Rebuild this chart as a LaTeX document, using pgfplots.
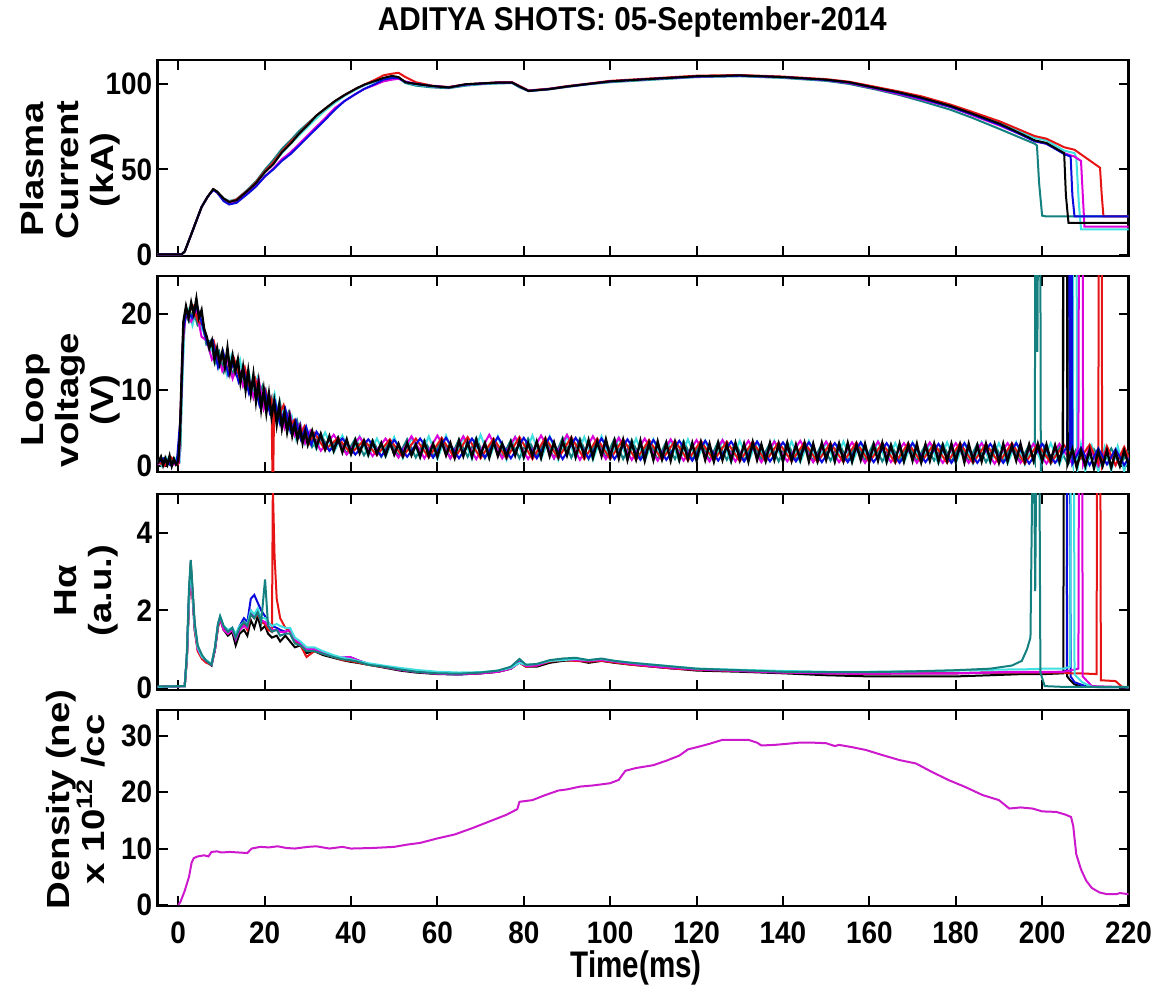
\documentclass[border=0pt]{standalone}
\usepackage{fontspec}
\setmainfont{Liberation Sans}[FakeStretch=0.9]
\newfontfamily\xlabf{Liberation Sans}[FakeStretch=0.8]
\newfontfamily\ylabf{Liberation Sans}[FakeStretch=1.2]
\usepackage{pgfplots}
\usepackage{pgfplotstable}
\pgfplotsset{compat=1.18}
\definecolor{cteal}{RGB}{20,128,128}
\definecolor{ccyan}{RGB}{64,224,224}
\definecolor{cmag}{RGB}{220,0,220}
\definecolor{cred}{RGB}{230,20,20}
\definecolor{cblue}{RGB}{10,10,220}
\definecolor{cdens}{RGB}{205,25,205}

\pgfplotstableread{
t k b r m c g
-4.8 0.4 0.4 0.4 0.4 0.4 0.4
0.8 0.4 0.4 0.4 0.4 0.4 0.4
1.5 2 2 2 2 2 2
3.1 12.6 12.6 12.6 12.6 12.6 12.6
4.2 20 20 20 20 20 20
5.4 28 28 28 28 28 28
6.8 34 34 34 34 34 34
8.1 38.5 38 38.5 38 38.5 38.5
9.0 37 36.5 37 36.5 37 37
10.5 33 31.5 33 32 33 33
11.8 31 29.5 31 30 31.5 31.5
13.5 32 30.5 32.5 31 32.5 32.5
16.2 37.8 36 38 36.5 38 38.5
18 42 40 42.5 40.5 42 43
20.1 48.5 46 49 46 48.5 50
22 53 50 54 50.5 53.5 55.5
24 60 55 60.5 56 59.5 62
26 65 59 66 60 65 67
28 71 64 71 65 70 72.5
30 76 69 76.5 70 75 77
32 81.5 74 81.5 75 80 81.5
34 85.5 79 85.5 80 84.5 85.5
36.3 90 85 90 86 89 90
38.5 93.5 90 93.5 90 93 93.5
41 97 94 97 94 96.5 97
43 99.5 97 99.5 97 99 99.5
45.6 101.7 100 102.5 99.5 101.5 101.5
47.5 103.5 102.5 105 101.5 103 103
49.5 104.7 103.5 106 102.5 104 104
51 104 103.5 106.5 103 103.5 103.5
52.6 101 101 104 101.5 101 100.5
55 100 100 101 100 99.5 99
58.7 98.8 98.8 99 98.8 98.5 98
62.6 97.9 98 98.2 98 98 97.5
66.5 99.8 99.6 99.8 99.6 99.3 99
70 100.3 100.2 100.3 100.2 100 99.8
74.2 100.8 100.8 101 100.8 100.5 100.3
77.3 100.8 100.8 101 100.8 100.6 100.5
79 98.5 98.5 98.8 98.5 98.3 98
81.1 95.9 96 96.2 96 96 95.8
85.8 96.9 97 97.2 97 97 96.8
90 98.5 98.5 98.7 98.5 98.5 98.2
95 100 100 100.2 100 100 99.8
100 101.5 101.5 101.8 101.5 101.3 101
110 103 103 103.3 103 102.8 102.5
120 104.5 104.3 104.8 104.3 104.2 104
130 105 104.8 105.2 104.8 104.7 104.5
140 104 104 104.3 104 103.8 103.5
150 102.5 102.3 102.8 102.3 102.2 101.8
155.3 101 100.8 101.3 100.5 100.8 100
161 98 97.8 98.5 97.5 98 97
167 95 94.5 95.5 94 95 93.5
172 92 91.5 92.8 91 92 90
178.7 87.2 86.7 88 86.5 87.5 85
184 82.5 82 83.5 81.5 83 80
190.3 76.6 76 78 75.5 77.5 73.5
195 71 70.5 73 70.5 72 68.5
198.3 67 66.5 69.5 66.5 68.5 65
198.8 nan nan nan nan nan 64
199.3 nan nan nan nan nan 42
200 nan nan nan nan nan 23
201 65.5 65 68 65 67 22.5
205.1 59.5 59 63 59.5 61 nan
205.5 35 nan nan nan nan nan
206.1 18.8 nan nan nan nan nan
206.6 nan 57.5 nan nan nan nan
207 nan 35 nan nan nan nan
207.5 nan 22.5 61.5 57.5 59.5 nan
207.9 nan nan nan nan 57 nan
208.5 nan nan nan nan 30 nan
209 nan nan nan 55 15 nan
209.8 nan nan nan 16.5 nan nan
213.4 nan nan 51 nan nan nan
213.8 nan nan 35 nan nan nan
214.2 nan nan 22.5 nan nan nan
220 18.8 22.5 22.5 16.5 15 22.5
}\tabIp

\pgfplotstableread{
t k b r m c g
-4.8 0.03 0.03 0.03 0.03 0.03 0.04
1.5 0.05 0.05 0.05 0.05 0.05 0.05
2.0 0.8 0.8 0.7 0.8 0.8 0.9
2.5 2.4 2.3 2.2 2.3 2.4 2.6
2.9 3.25 3.0 2.9 3.0 3.1 3.3
3.3 2.5 2.4 2.4 2.5 2.5 2.6
3.8 1.6 1.5 1.5 1.6 1.6 1.7
4.5 1.05 1.0 0.95 1.0 1.05 1.1
5.5 0.8 0.8 0.75 0.8 0.8 0.85
6.5 0.68 0.7 0.65 0.7 0.72 0.7
7.7 0.58 0.6 0.6 0.6 0.62 0.6
8.5 1.0 1.0 1.0 1.0 1.05 1.05
9.2 1.6 1.6 1.55 1.6 1.65 1.65
9.7 1.8 1.82 1.78 1.8 1.85 1.85
10.5 1.5 1.55 1.5 1.5 1.6 1.6
11.5 1.35 1.45 1.4 1.4 1.5 1.45
12.5 1.45 1.55 1.5 1.5 1.55 1.55
13.3 1.1 1.35 1.3 1.25 1.4 1.3
14.2 1.4 1.6 1.5 1.5 1.6 1.55
15.2 1.5 1.8 1.65 1.6 1.7 1.7
16.0 1.35 1.7 1.5 1.55 1.65 1.6
16.8 1.75 2.3 1.9 2.0 2.0 1.9
17.6 1.55 2.4 1.8 1.85 1.9 1.8
18.4 1.85 2.2 1.9 2.0 2.05 1.95
19.2 1.5 2.0 1.7 1.75 1.8 1.7
20.1 1.6 1.85 1.65 1.7 1.8 2.8
20.8 1.4 1.7 1.5 1.6 1.7 1.6
21.7 1.3 1.6 1.45 1.5 1.6 1.45
21.9 nan nan 5.2 nan nan nan
22.3 nan nan 3.4 nan nan nan
22.8 1.35 1.55 2.3 1.5 1.65 1.5
23.6 1.2 1.5 1.8 1.45 1.6 1.35
24.8 1.35 1.45 1.55 1.45 1.55 1.4
25.9 1.2 1.5 1.45 1.5 1.55 1.4
27.0 1.05 1.25 1.2 1.25 1.3 1.15
28.3 1.1 1.15 1.1 1.15 1.2 1.1
29.7 0.9 1.0 0.8 1.0 1.05 0.95
31.5 0.95 1.0 0.95 1.0 1.05 0.95
33.5 0.85 0.92 0.88 0.9 0.95 0.88
35.9 0.78 0.82 0.8 0.82 0.85 0.8
38.0 0.72 0.78 0.72 0.78 0.78 0.74
39.7 0.68 0.8 0.7 0.8 0.75 0.72
41.5 0.65 0.72 0.66 0.72 0.7 0.68
44 0.6 0.62 0.6 0.62 0.64 0.6
47.5 0.53 0.55 0.54 0.55 0.58 0.55
51.3 0.45 0.47 0.47 0.47 0.52 0.48
55 0.4 0.42 0.42 0.42 0.47 0.42
60 0.36 0.37 0.37 0.37 0.42 0.38
65 0.35 0.35 0.36 0.36 0.4 0.37
70 0.38 0.38 0.38 0.38 0.41 0.4
74 0.42 0.42 0.42 0.42 0.45 0.45
77 0.5 0.5 0.5 0.5 0.52 0.55
79 0.66 0.68 0.66 0.66 0.65 0.75
80.5 0.55 0.58 0.55 0.57 0.6 0.6
83 0.55 0.6 0.58 0.58 0.62 0.62
86 0.65 0.7 0.68 0.7 0.7 0.72
89 0.7 0.72 0.72 0.75 0.72 0.76
92 0.72 0.75 0.7 0.72 0.75 0.78
95 0.65 0.7 0.68 0.7 0.72 0.72
98 0.7 0.72 0.7 0.72 0.75 0.76
101 0.65 0.68 0.66 0.68 0.7 0.7
105 0.6 0.62 0.6 0.62 0.65 0.65
110 0.55 0.55 0.55 0.56 0.6 0.6
115 0.5 0.5 0.5 0.52 0.55 0.55
120 0.45 0.48 0.47 0.48 0.5 0.5
130 0.42 0.44 0.44 0.44 0.47 0.46
140 0.38 0.4 0.4 0.4 0.44 0.42
150 0.33 0.38 0.38 0.38 0.42 0.41
160 0.3 0.37 0.37 0.37 0.42 0.41
170 0.3 0.38 0.38 0.38 0.43 0.43
180 0.3 0.38 0.38 0.38 0.45 0.46
188 0.33 0.4 0.4 0.4 0.47 0.5
193 0.35 0.4 0.4 0.42 0.48 0.58
195.3 0.36 0.4 0.4 0.42 0.48 0.7
196.5 nan nan nan nan nan 1.0
197.3 nan nan nan nan nan 1.3
197.7 nan nan nan nan nan 5.2
198.2 nan nan nan nan nan 5.2
198.4 nan nan nan nan nan 2.5
198.6 nan nan nan nan nan 5.2
199.4 nan nan nan nan nan 5.2
199.6 nan nan nan nan nan 0.4
200.6 0.36 0.4 0.4 0.42 0.5 0.05
204.9 0.38 0.42 0.4 0.42 0.5 0.03
205.0 5.2 nan nan nan nan nan
205.7 5.2 0.45 nan nan nan nan
205.8 0.3 5.2 nan nan nan nan
206.5 0.2 5.2 0.38 0.45 0.55 nan
206.6 nan 0.3 nan nan 5.2 nan
207.4 0.1 nan nan nan 5.2 nan
207.5 nan 0.15 nan nan 0.35 nan
208.4 nan nan 0.38 0.5 nan nan
208.5 nan nan nan 5.2 nan nan
209.3 0.03 nan nan 5.2 0.15 nan
209.4 nan nan nan 0.3 nan nan
210.5 nan 0.03 nan nan nan nan
211.5 nan nan nan 0.05 0.03 nan
212.6 nan nan 0.36 nan nan nan
212.7 nan nan 5.2 nan nan nan
213.5 nan nan 5.2 nan nan nan
213.6 nan nan 0.2 nan nan nan
217 nan nan 0.18 nan nan nan
218.5 nan nan 0.03 nan nan nan
220 0.02 0.02 0.02 0.02 0.02 0.03
}\tabHa

\pgfplotstableread{
t v
0 0
0.5 0.5
1.5 2.5
2.5 5
3.1 7.5
3.6 8.3
4.5 8.6
6 8.8
7 8.6
7.7 9.4
9 9.5
10 9.3
12 9.4
14 9.3
16 9.2
17 10.0
19 10.3
21 10.2
23 10.4
25 10.1
27 10.0
30 10.3
32 10.4
35 10.0
38 10.3
40 10.0
45 10.1
50 10.3
53 10.7
56 11.0
60 11.8
64 12.5
68 13.6
72 14.8
76 16.0
78.5 17.0
79 18.3
82 18.6
85 19.5
88 20.3
90 20.5
93 21.0
96 21.2
100 21.6
102 22.2
103.5 23.8
106 24.3
110 24.8
113 25.6
116 26.5
118 27.6
120.6 28.1
123 28.6
126 29.3
129 29.3
132 29.3
134 28.8
135 28.3
138 28.4
141 28.6
143.7 28.8
147 28.8
150 28.7
152 28.2
153 28.4
156 28.0
159.2 27.5
163 26.6
167 25.7
170.8 25.1
174.5 23.6
178.5 22.1
182 21.0
186.2 19.5
190 18.6
192.4 17.1
195 17.3
197.8 17.1
200 16.6
203.3 16.5
205.5 16.0
206.7 15.6
207.2 14.0
207.9 9.0
209 6.3
210.2 4.3
211.5 3.0
213.3 2.2
215 1.9
217.2 1.9
218 2.1
220 1.9
}\tabDen

\pgfplotsset{
  panel/.style={
    width=485.5pt, height=98pt, scale only axis,
    anchor=south west,
    xmin=-4.8, xmax=220,
    xtick={0,20,...,220},
    axis line style={line width=1.3pt},
    tick style={line width=1pt, black},
    major tick length=5pt,
    tick align=inside,
    ticklabel style={font=\fontsize{15.5}{16}\selectfont\bfseries},
    yticklabel style={inner sep=0pt, xshift=-2.5pt},
    /pgf/number format/assume math mode=true,
    every axis plot/.append style={line width=1pt},
    ylabel style={anchor=center, align=center, font=\ylabf\fontsize{16}{17.5}\selectfont\bfseries},
  },
  toppanel/.style={panel, xticklabels={}},
}

\begin{document}
\begin{tikzpicture}
\path[use as bounding box] (0,0) rectangle (579.5pt,494.5pt);

% ---------- Plasma current ----------
\begin{axis}[toppanel, at={(78.75pt,366.5pt)},
  ymin=-0.6, ymax=114, ytick={0,50,100},
  ylabel={Plasma\\Current\\(kA)},
  ylabel style={at={(axis description cs:-0.090,0.44)}},
  title={ADITYA SHOTS: 05-September-2014},
  title style={font=\fontsize{16.5}{18}\selectfont\bfseries, at={(axis description cs:0.489,1)}, anchor=base, yshift=8.5pt},
]
\addplot[cteal] table[x=t,y=g]{\tabIp};
\addplot[ccyan] table[x=t,y=c]{\tabIp};
\addplot[cmag] table[x=t,y=m]{\tabIp};
\addplot[cred] table[x=t,y=r]{\tabIp};
\addplot[cblue] table[x=t,y=b]{\tabIp};
\addplot[black] table[x=t,y=k]{\tabIp};
\end{axis}

% ---------- Loop voltage ----------
\begin{axis}[toppanel, at={(78.75pt,258.5pt)},
  ymin=-0.8, ymax=25, ytick={0,10,20},
  ylabel={Loop\\voltage\\(V)},
  ylabel style={at={(axis description cs:-0.0896,0.367)}},
]
\addplot[cteal] coordinates {(-4.8,0.5)(-3.5,1.0)(-2,0.2)(-0.5,0.8)(0.5,2)(1,14)(1.6,20)(2.5,19)(3.5,20.5)(4.5,18.5)(5.5,19)(6.5,16)(7.5,16.5)(8.5,13.5)(9.5,15)(10.5,12.5)(11.5,14.5)(12.5,12)(13.5,13.5)(14.5,11.5)(15.5,12.5)(16.5,10)(17.5,11.5)(18.5,9)(19.5,10.5)(20.5,7.5)(21.5,9)(22.5,6.5)(23.5,8.5)(24.5,5.5)(25.5,7)(26.5,4.5)(27.5,6)(28.5,3.5)(29.5,5)
(31,2.5)(33,4.2)(35,2.0)(37,3.8)(39,1.6)(41,3.6)(43,1.4)(45,3.4)(47,1.2)(49,3.3)(51,1.3)(53,3.5)(55,1.1)(57,3.4)(59,1.2)(61,3.6)(63,1.0)(65,3.5)(67,1.2)(69,3.7)(71,1.0)(73,3.5)(75,1.1)(77,3.4)(79,1.0)(81,3.6)(83,1.2)(85,3.5)(87,1.0)(89,3.7)(91,1.1)(93,3.6)(95,0.9)(97,3.5)(99,1.1)(101,3.6)(103,0.9)(105,3.4)(107,1.0)(109,3.3)(111,0.8)(113,3.2)(115,0.9)(117,3.3)(119,0.8)(121,3.1)(123,0.7)(125,3.2)(127,0.8)(129,3.0)(131,0.7)(133,3.1)(135,0.8)(137,3.0)(139,0.6)(141,3.1)(143,0.7)(145,3.0)(147,0.6)(149,2.9)(151,0.7)(153,3.0)(155,0.6)(157,2.9)(159,0.7)(161,3.0)(163,0.6)(165,2.8)(167,0.7)(169,2.9)(171,0.6)(173,2.8)(175,0.7)(177,2.9)(179,0.5)(181,2.8)(183,0.6)(185,2.9)(187,0.5)(189,2.8)(191,0.6)(193,2.9)(195,0.5)(197,2.8)(198.3,0.5)(198.4,26)(198.8,26)(198.9,15)(199.0,26)(199.6,26)(199.7,-0.8)(200.5,2.5)(202,0.3)(204,2.4)(206,0.2)(208,2.3)(210,0.1)(212,2.2)(214,0.2)(216,2.3)(218,0.1)(220,2.0)};
\addplot[ccyan] coordinates {(-4.8,0.8)(-3.8,0.0)(-2.8,1.1)(-1.8,0.3)(-0.8,1.0)(0.3,0.5)(0.9,10)(1.5,19)(2.3,20.5)(3.3,18.5)(4.3,21)(5.3,18)(6.3,17.5)(7.3,15)(8.3,16)(9.3,13)(10.3,15)(11.3,12)(12.3,14.5)(13.3,12.5)(14.3,14)(15.3,10.5)(16.3,12.5)(17.3,9.5)(18.3,11.5)(19.3,8)(20.3,10)(21.3,7.5)(22.3,9.5)(23.3,6)(24.3,7.5)(25.3,4.5)(26.3,6.5)(27.3,3.5)(28.3,5.5)(29.3,3)(30.3,4.5)
(32,2.2)(34,4.4)(36,1.8)(38,4.0)(40,1.5)(42,3.9)(44,1.3)(46,3.6)(48,1.2)(50,3.8)(52,1.0)(54,3.7)(56,1.1)(58,3.9)(60,0.9)(62,4.0)(64,1.0)(66,3.8)(68,0.9)(70,4.1)(72,1.0)(74,3.9)(76,0.8)(78,3.8)(80,1.0)(82,4.0)(84,0.9)(86,3.9)(88,0.8)(90,4.0)(92,1.0)(94,3.8)(96,0.8)(98,3.9)(100,0.9)(102,3.7)(104,0.8)(106,3.6)(108,0.7)(110,3.5)(112,0.8)(114,3.4)(116,0.6)(118,3.5)(120,0.7)(122,3.3)(124,0.6)(126,3.4)(128,0.5)(130,3.3)(132,0.6)(134,3.2)(136,0.5)(138,3.3)(140,0.6)(142,3.2)(144,0.5)(146,3.3)(148,0.4)(150,3.1)(152,0.5)(154,3.2)(156,0.4)(158,3.1)(160,0.5)(162,3.2)(164,0.4)(166,3.0)(168,0.5)(170,3.1)(172,0.4)(174,3.0)(176,0.3)(178,3.1)(180,0.4)(182,3.0)(184,0.3)(186,3.1)(188,0.4)(190,3.0)(192,0.3)(194,3.1)(196,0.2)(198,3.0)(200,0.3)(202,3.0)(204,0.2)(206,3.1)(207.1,0.2)(207.2,26)(208.0,26)(208.1,-0.8)(209,2.8)(210,-0.6)(211.5,2.6)(213,-0.7)(214.5,2.5)(216,-0.6)(217.5,2.6)(219,-0.7)(220,1.5)};
\addplot[cmag] coordinates {(-4.8,0.2)(-3,0.9)(-1.5,0.1)(0.2,0.4)(1,16)(1.8,20)(3,19)(4.2,20.5)(5.4,17)(6.6,16.5)(7.8,14)(9,15)(10.2,12.5)(11.4,14)(12.6,11.5)(13.8,13.5)(15,10.5)(16.2,12)(17.4,9)(18.6,11.5)(19.8,7.5)(21,9.5)(22.2,6)(23.4,8)(24.6,5)(25.8,7)(27,4)(28.2,5.5)(29.4,3)(30.6,4.6)
(33,2.0)(36,4.1)(39,1.5)(42,3.8)(45,1.3)(48,3.6)(51,1.1)(54,3.9)(57,1.0)(60,4.0)(63,1.0)(66,3.9)(69,0.9)(72,4.1)(75,1.0)(78,3.8)(81,0.9)(84,4.0)(87,1.0)(90,4.1)(93,0.8)(96,3.9)(99,0.9)(102,3.7)(105,0.8)(108,3.6)(111,0.7)(114,3.5)(117,0.7)(120,3.4)(123,0.6)(126,3.4)(129,0.6)(132,3.3)(135,0.5)(138,3.2)(141,0.6)(144,3.3)(147,0.5)(150,3.2)(153,0.5)(156,3.1)(159,0.4)(162,3.2)(165,0.5)(168,3.0)(171,0.4)(174,3.1)(177,0.4)(180,3.0)(183,0.4)(186,3.0)(189,0.3)(192,3.0)(195,0.4)(198,2.9)(201,0.3)(204,2.9)(207,0.3)(208.4,2.5)(208.5,26)(209.4,26)(209.5,0.2)(211,2.5)(213,0.0)(215,2.4)(217,0.1)(219,2.3)(220,1.0)};
\addplot[cred] coordinates {(-4.8,0.6)(-3.2,0.0)(-1.6,1.1)(0,0.3)(0.7,9)(1.3,19)(2.2,20)(3.4,21)(4.6,19)(5.8,18.5)(7,16)(8.2,16.5)(9.4,13.5)(10.6,14.5)(11.8,12)(13,14)(14.2,11.5)(15.4,13)(16.6,10)(17.8,11.5)(19,8.5)(20.2,10)(21.2,7.5)(21.6,8.5)(21.8,-0.8)(22.0,-0.8)(22.2,7.5)(23.2,6.5)(24.4,8)(25.6,5)(26.8,6)(28,3.8)(29.2,5.2)(30.4,3)(31.6,4.3)
(34,2.1)(37,3.7)(40,1.6)(43,3.4)(46,1.4)(49,3.5)(52,1.2)(55,3.6)(58,1.1)(61,3.7)(64,1.0)(67,3.8)(70,1.0)(73,3.6)(76,1.0)(79,3.8)(82,0.9)(85,3.7)(88,1.0)(91,3.8)(94,0.9)(97,3.6)(100,0.9)(103,3.5)(106,0.8)(109,3.4)(112,0.8)(115,3.3)(118,0.7)(121,3.3)(124,0.7)(127,3.2)(130,0.6)(133,3.2)(136,0.6)(139,3.1)(142,0.6)(145,3.1)(148,0.5)(151,3.0)(154,0.5)(157,3.1)(160,0.5)(163,3.0)(166,0.4)(169,3.0)(172,0.5)(175,2.9)(178,0.4)(181,3.0)(184,0.4)(187,2.9)(190,0.4)(193,3.0)(196,0.3)(199,2.9)(202,0.4)(205,2.8)(208,0.3)(211,2.8)(213.0,0.4)(213.1,26)(213.8,26)(213.9,0.2)(215,2.6)(217,0.1)(219,2.5)(220,1.2)};
\addplot[cblue] coordinates {(-4.8,0.4)(-3.3,1.0)(-1.8,0.1)(-0.3,0.7)(0.6,7)(1.2,18)(2,20.5)(3.2,19.5)(4.4,21)(5.6,18.5)(6.8,16)(8,16.5)(9.2,13)(10.4,15)(11.6,12)(12.8,13.5)(14,11)(15.2,12.5)(16.4,9.5)(17.6,11)(18.8,8)(20,10)(21.2,7)(22.4,8.5)(23.6,5.5)(24.8,7.5)(26,4.5)(27.2,6)(28.4,3.5)(29.6,5.2)(30.8,2.8)(32,4.5)
(35,2.0)(38,3.6)(41,1.5)(44,3.5)(47,1.3)(50,3.4)(53,1.2)(56,3.6)(59,1.1)(62,3.7)(65,1.0)(68,3.6)(71,1.1)(74,3.8)(77,1.0)(80,3.7)(83,1.0)(86,3.8)(89,0.9)(92,3.7)(95,1.0)(98,3.6)(101,0.9)(104,3.5)(107,0.8)(110,3.4)(113,0.8)(116,3.3)(119,0.7)(122,3.3)(125,0.7)(128,3.2)(131,0.6)(134,3.2)(137,0.6)(140,3.1)(143,0.6)(146,3.1)(149,0.5)(152,3.0)(155,0.5)(158,3.1)(161,0.5)(164,3.0)(167,0.4)(170,3.0)(173,0.5)(176,2.9)(179,0.4)(182,3.0)(185,0.4)(188,2.9)(191,0.4)(194,3.0)(197,0.3)(200,2.9)(203,0.4)(205.8,2.5)(205.9,26)(206.4,26)(206.5,2)(206.6,26)(206.9,26)(207.0,0.3)(209,2.4)(211,0.1)(213,2.3)(215,0.2)(217,2.2)(219,0.1)(220,1.0)};
\addplot[black, line width=1.2pt] coordinates {(-4.8,0.3)(-4,1.2)(-3.5,0.1)(-3,1.0)(-2.5,0.2)(-2,1.3)(-1.5,0)(-1,0.9)(-0.5,0.2)(0,0.6)(0.4,4)(0.8,12)(1.2,19)(1.8,21)(2.4,19.5)(3,21.5)(3.6,20)(4.2,22)(4.8,19.5)(5.4,20.5)(6,18)(6.6,17)(7.2,15.5)(7.8,16.5)(8.4,14)(9,15.5)(9.6,13.5)(10.2,15)(10.8,13)(11.4,15.5)(12,12.5)(12.6,14.5)(13.2,12.5)(13.8,14)(14.4,11)(15,13)(15.6,10)(16.2,12.5)(16.8,9.5)(17.4,12)(18,8.5)(18.6,11)(19.2,7.5)(19.8,10)(20.4,7)(21,9.5)(21.6,6.5)(22.2,8.5)(22.8,5.5)(23.4,8)(24,5)(24.6,7)(25.2,4.5)(25.8,6.5)(26.4,4)(27,5.5)(27.6,3.5)(28.2,5)(28.8,3)(29.4,4.5)
(30,2.8)(31,4.6)(32,2.5)(33,4.2)(34,2.2)(35,3.9)(36,2.0)(37,3.6)(38,1.8)(39,3.5)(40,1.6)(41,3.4)(42,1.7)(43,3.3)(44,1.5)(45,3.2)(46,1.6)(47,3.0)(48,1.4)(49,3.1)(50,1.5)(51,2.9)(52,1.3)(53,3.0)(54,1.4)(55,2.8)(56,1.2)(57,3.1)(58,1.3)(59,2.9)(60,1.2)(61,3.2)(62,1.4)(63,3.0)(64,1.1)(65,3.3)(66,1.3)(67,3.1)(68,1.2)(69,3.4)(70,1.4)(71,3.0)(72,1.1)(73,3.2)(74,1.3)(75,2.9)(76,1.2)(77,3.1)(78,1.4)(79,3.3)(80,1.2)(81,3.0)(82,1.3)(83,3.2)(84,1.1)(85,3.4)(86,1.3)(87,3.1)(88,1.2)(89,3.3)(90,1.4)(91,3.5)(92,1.2)(93,3.2)(94,1.3)(95,3.4)(96,1.1)(97,3.2)(98,1.3)(99,3.5)(100,1.2)
(101,3.3)(102,1.0)(103,3.4)(104,0.8)(105,3.1)(106,0.9)(107,3.3)(108,0.7)(109,3.0)(110,0.8)(111,3.2)(112,0.9)(113,3.0)(114,0.7)(115,3.1)(116,0.8)(117,2.9)(118,0.9)(119,3.0)(120,0.7)(121,3.1)(122,0.8)(123,2.9)(124,0.6)(125,3.0)(126,0.8)(127,2.8)(128,0.7)(129,3.0)(130,0.8)(131,2.9)(132,0.6)(133,3.1)(134,0.8)(135,2.8)(136,0.7)(137,3.0)(138,0.8)(139,2.9)(140,0.6)(141,3.0)(142,0.7)(143,2.8)(144,0.8)(145,3.0)(146,0.6)(147,2.9)(148,0.7)(149,3.0)(150,0.8)(151,2.8)(152,0.6)(153,2.9)(154,0.7)(155,3.0)(156,0.6)(157,2.8)(158,0.8)(159,2.9)(160,0.6)(161,2.8)(162,0.7)(163,3.0)(164,0.6)(165,2.7)(166,0.7)(167,2.9)(168,0.6)(169,2.8)(170,0.7)(171,2.9)(172,0.5)(173,2.8)(174,0.7)(175,2.9)(176,0.6)(177,2.7)(178,0.7)(179,2.9)(180,0.6)(181,2.8)(182,0.5)(183,2.9)(184,0.7)(185,2.7)(186,0.6)(187,2.9)(188,0.7)(189,2.8)(190,0.5)(191,2.9)(192,0.6)(193,2.7)(194,0.7)(195,2.9)(196,0.6)(197,2.8)(198,0.7)(199,2.9)(200,0.6)(201,2.8)(202,0.7)(203,2.7)(204,0.6)(204.8,2.6)(204.9,26)(205.8,26)(205.9,0.3)(207,2.2)(208,-0.2)(209,2.0)(210,0.0)(211,2.1)(212,-0.3)(213,1.9)(214,0.0)(215,2.0)(216,-0.2)(217,1.8)(218,0.0)(219,2.0)(220,0.2)};
\end{axis}

% ---------- H alpha ----------
\begin{axis}[toppanel, at={(78.75pt,149.5pt)},
  ymin=-0.05, ymax=5, ytick={0,2,4},
  ylabel={Hα\\(a.u.)},
  ylabel style={at={(axis description cs:-0.073,0.508)}},
]
\addplot[black] table[x=t,y=k]{\tabHa};
\addplot[cblue] table[x=t,y=b]{\tabHa};
\addplot[cred] table[x=t,y=r]{\tabHa};
\addplot[cmag] table[x=t,y=m]{\tabHa};
\addplot[ccyan] table[x=t,y=c]{\tabHa};
\addplot[cteal] table[x=t,y=g]{\tabHa};
\end{axis}

% ---------- Density ----------
\begin{axis}[panel, at={(78.75pt,41.5pt)},
  ymin=-0.2, ymax=34.6, ytick={0,10,20,30},
  ylabel={Density (ne)\\x 10\textsuperscript{12} /cc},
  ylabel style={at={(axis description cs:-0.084,0.544)}},
  xticklabel style={anchor=base, yshift=-18.5pt},
  xlabel={Time(ms)},
  xlabel style={font=\xlabf\fontsize{18.5}{20}\selectfont\bfseries, at={(axis description cs:0.493,0)}, anchor=base, yshift=-35.5pt},
]
\addplot[cdens] table[x=t,y=v]{\tabDen};
\end{axis}
\end{tikzpicture}
\end{document}
